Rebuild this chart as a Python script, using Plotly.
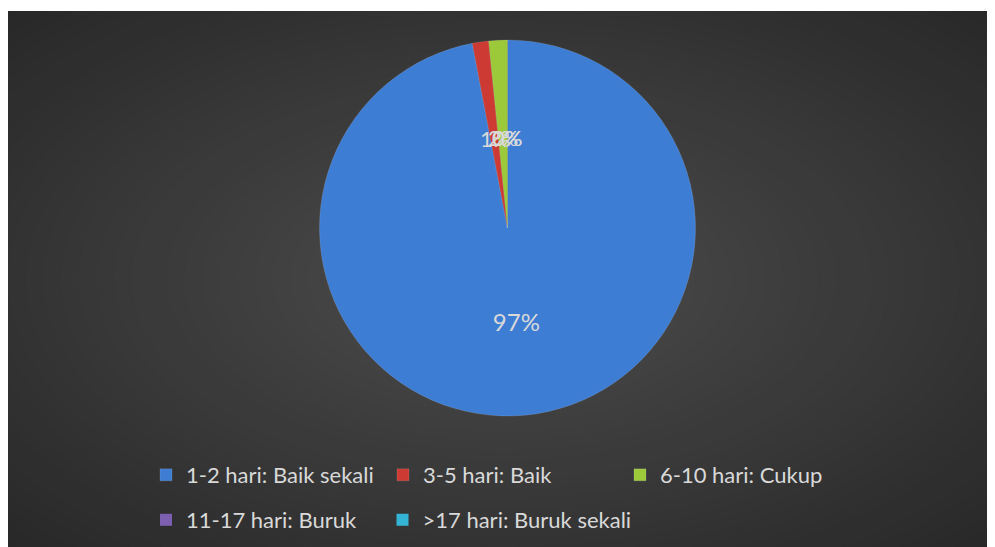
import math
import plotly.graph_objects as go

labels = ["1-2 hari: Baik sekali", "3-5 hari: Baik", "6-10 hari: Cukup",
          "11-17 hari: Buruk", ">17 hari: Buruk sekali"]
values = [97.0, 1.4, 1.6, 0, 0]
colors = ["#3d7dd4", "#cc3a33", "#9cc93a", "#7d5fb0", "#34b4d4"]

W, H = 987, 539
FONT = "Lato"
TXT = "#d9d9d9"

shapes = []
# dark chart area with radial gradient
x_left, y_top = 0, 3
cx = (x_left + W) / 2
cy = (y_top + H) / 2
c_in = (0x4d, 0x4d, 0x4d)
c_out = (0x28, 0x28, 0x28)
n = 40
shapes.append(dict(type="rect", xref="paper", yref="paper", x0=0, x1=1, y0=0, y1=1 - y_top / H,
                   fillcolor="rgb(40,40,40)", line=dict(width=0), layer="below"))
for i in range(n, 0, -1):
    t = i / n
    a = t * 705
    b = t * 383
    col = tuple(int(round(c_in[k] + (c_out[k] - c_in[k]) * t)) for k in range(3))
    shapes.append(dict(type="circle", xref="paper", yref="paper",
                       x0=(cx - a) / W, x1=(cx + a) / W,
                       y0=1 - (cy + b) / H, y1=1 - (cy - b) / H,
                       fillcolor="rgb(%d,%d,%d)" % col, line=dict(width=0), layer="below"))
# white top margin
shapes.append(dict(type="rect", xref="paper", yref="paper", x0=-0.1, x1=1.1, y0=1 - y_top / H, y1=1.2,
                   fillcolor="white", line=dict(width=0), layer="below"))

# pie geometry (pixels in figure)
pcx, pcy, pr = 499.5, 220, 188
dom = dict(x=[(pcx - pr) / W, (pcx + pr) / W], y=[1 - (pcy + pr) / H, 1 - (pcy - pr) / H])

n_pie = 3
fig = go.Figure()
fig.add_trace(go.Pie(
    labels=labels[:n_pie], values=values[:n_pie], sort=False, direction="clockwise", rotation=0,
    marker=dict(colors=colors[:n_pie], line=dict(color="rgba(255,255,255,0.12)", width=1)),
    texttemplate="%{percent:.0%}", textposition=["inside"] + ["none"] * (n_pie - 1),
    insidetextorientation="horizontal",
    textfont=dict(family=FONT, size=24, color=TXT),
    domain=dom, legend="legend", hoverinfo="label+percent",
))
# zero-valued categories: legend entries on the second row
for j, (lab, col) in enumerate(zip(labels[n_pie:], colors[n_pie:])):
    fig.add_trace(go.Scatter(x=[None], y=[None], mode="markers", name=lab,
                             legend="legend%d" % (j + 2),
                             marker=dict(symbol="square", size=12, color=col), hoverinfo="skip"))

# percentage labels for the thin slices, placed at mid radius on each slice's bisector
total = sum(values)
annotations = []
cum = 0.0
for i, v in enumerate(values):
    mid = (cum + v / 2) / total * 2 * math.pi
    cum += v
    if i == 0:
        continue
    rl = 0.48 * pr
    ax = pcx + rl * math.sin(mid)
    ay = pcy - rl * math.cos(mid)
    annotations.append(dict(x=ax / W, y=1 - ay / H, xref="paper", yref="paper",
                            xanchor="center", yanchor="middle",
                            text="%d%%" % round(v / total * 100), showarrow=False,
                            font=dict(family=FONT, size=22, color=TXT)))

leg_common = dict(orientation="h", xanchor="left", yanchor="middle", bgcolor="rgba(0,0,0,0)",
                  font=dict(family=FONT, size=22, color=TXT), entrywidthmode="pixels",
                  itemwidth=30, itemclick=False, itemdoubleclick=False)
x0_leg, col_w = 138, 236.5
fig.update_layout(
    width=W, height=H,
    margin=dict(l=0, r=0, t=0, b=0),
    paper_bgcolor="white", plot_bgcolor="rgba(0,0,0,0)",
    shapes=shapes, annotations=annotations,
    xaxis=dict(visible=False), yaxis=dict(visible=False),
    legend=dict(x=x0_leg / W, y=1 - 467 / H, entrywidth=192, **leg_common),
    legend2=dict(x=x0_leg / W, y=1 - 512 / H, entrywidth=192, **leg_common),
    legend3=dict(x=(x0_leg + col_w) / W, y=1 - 512 / H, entrywidth=260, **leg_common),
    showlegend=True,
)
fig.write_html("out.html")
